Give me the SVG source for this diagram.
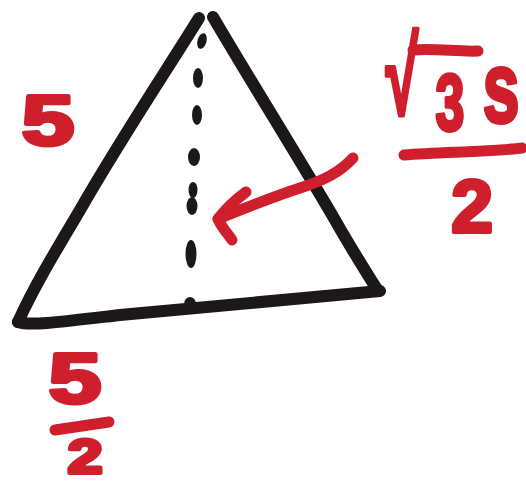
<svg xmlns="http://www.w3.org/2000/svg" width="526" height="487" viewBox="0 0 526 487">
<style>
.ink{fill:none;stroke:#1c1819;stroke-width:12;stroke-linecap:round;stroke-linejoin:round}
.dash{fill:#1c1819}
.red{fill:none;stroke:#cf1f2c;stroke-width:11;stroke-linecap:round;stroke-linejoin:round}
.lbl{font-family:"Liberation Sans",Arial,sans-serif;font-weight:bold;fill:#cf1f2c;stroke:#cf1f2c;stroke-width:4;stroke-linejoin:round;text-anchor:middle}
</style>
<rect width="526" height="487" fill="#ffffff"/>
<g id="triangle">
<path class="ink" d="M199,18 C170,65 120,140 80,210 C55,252 35,285 18,322"/>
<path class="ink" d="M213,17 C250,80 300,160 335,220 C352,250 368,275 378,291"/>
<path class="ink" d="M18,322 C30,326 60,322 120,315 C200,308 280,300 380,291"/>
</g>
<g id="height">
<ellipse class="dash" cx="202" cy="41" rx="4.5" ry="8" transform="rotate(15 202 41)"/>
<ellipse class="dash" cx="198" cy="78" rx="5" ry="10"/>
<ellipse class="dash" cx="197" cy="115" rx="5" ry="10"/>
<ellipse class="dash" cx="194" cy="157" rx="6" ry="9"/>
<ellipse class="dash" cx="193" cy="190" rx="4.5" ry="8"/>
<ellipse class="dash" cx="192" cy="206" rx="5.5" ry="9"/>
<ellipse class="dash" cx="191" cy="254" rx="5.5" ry="14"/>
<ellipse class="dash" cx="190" cy="304" rx="6" ry="7"/>
</g>
<g id="connectors">
<path class="red" d="M353,158 C340,172 325,180 300,188 C275,196 250,206 218,219"/>
<path class="red" d="M246,192 C235,200 225,210 218,219 C222,228 228,234 232,240"/>
</g>
<g id="label-side">
<text class="lbl" font-size="70" transform="translate(48,145) scale(1.35,1)">5</text>
</g>
<g id="label-height">
<text class="lbl" font-size="108" transform="translate(402,114) scale(0.55,1)">√</text>
<path class="red" d="M413,50 C435,48 458,52 478,51"/>
<text class="lbl" font-size="80" transform="translate(450,130) scale(0.65,1)">3</text>
<text class="lbl" font-size="100" transform="translate(501,122) scale(0.66,1)">s</text>
<path class="red" d="M404,155 C440,152 490,152 522,148"/>
<text class="lbl" font-size="75" x="472" y="232">2</text>
</g>
<g id="label-half">
<text class="lbl" font-size="70" transform="translate(75,403) scale(1.35,1)">5</text>
<path class="red" d="M55,430 C75,427 95,424 109,422"/>
<text class="lbl" font-size="48" transform="translate(85,473) scale(1.3,1)">2</text>
</g>
</svg>
